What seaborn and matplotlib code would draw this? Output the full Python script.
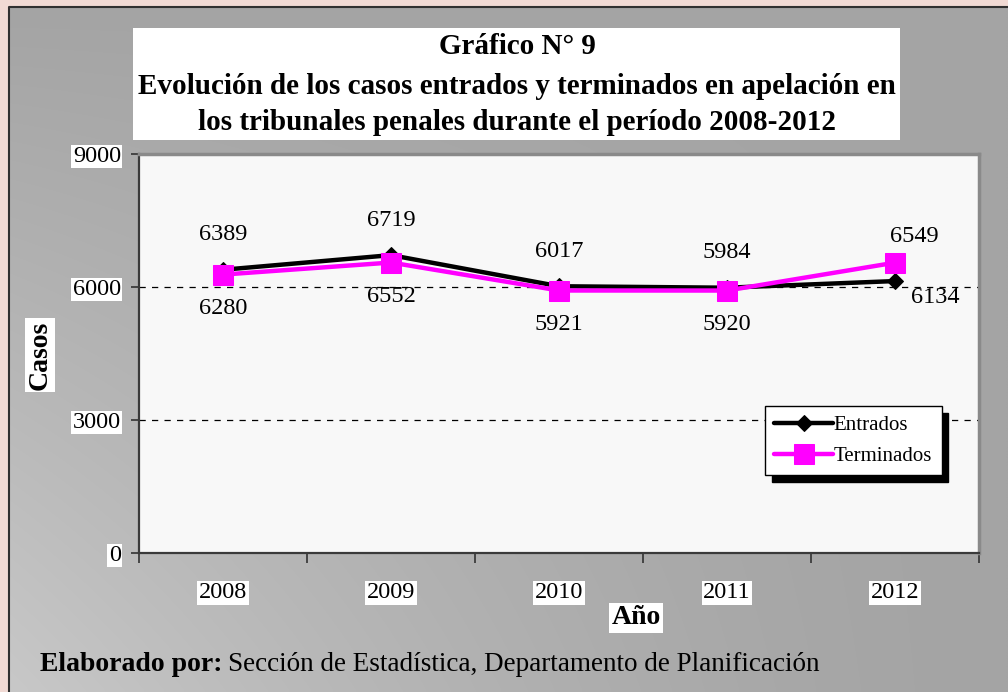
import numpy as np
import pandas as pd
import matplotlib
matplotlib.use("Agg")
import matplotlib.pyplot as plt
from matplotlib.patches import Rectangle
import seaborn as sns

# ---- data ----
years = ["2008", "2009", "2010", "2011", "2012"]
entrados = [6389, 6719, 6017, 5984, 6134]
terminados = [6280, 6552, 5921, 5920, 6549]
y_ticks = [0, 3000, 6000, 9000]
title_lines = ["Gráfico N° 9",
               "Evolución de los casos entrados y terminados en apelación en",
               "los tribunales penales durante el período 2008-2012"]

sns.set_style("white")
plt.rcParams["font.family"] = ["Liberation Serif", "DejaVu Serif"]
for k in ["text.color", "axes.labelcolor", "xtick.color", "ytick.color"]:
    plt.rcParams[k] = "black"

W, H = 1008, 692
fig = plt.figure(figsize=(W / 100, H / 100), dpi=100, facecolor="#f1dad4")

# background panel with gradient
bg = fig.add_axes([0, 0, 1, 1], zorder=-10)
bg.set_xlim(0, W)
bg.set_ylim(H, 0)
bg.axis("off")
yy, xx = np.mgrid[0:1:200j, 0:1:300j]
f = np.clip(yy * (1 - xx) ** 1.5, 0, 1)
val = (0xa4 + (0xc8 - 0xa4) * f) / 255.0
img = np.dstack([val, val, val])
bg.imshow(img, extent=(9, W, H, 7), aspect="auto", interpolation="bilinear")
bg.plot([9, 9, W], [H, 7, 7], color="#303030", lw=1.5)
bg.add_patch(Rectangle((133, 28), 767, 112, facecolor="white", edgecolor="none"))

# main axes
L, R, T, B = 139, 979, 154, 553
ax = fig.add_axes([L / W, 1 - B / H, (R - L) / W, (B - T) / H])
ax.set_facecolor("#f8f8f8")

x = np.arange(len(years))
df = pd.DataFrame({"x": x, "Entrados": entrados, "Terminados": terminados})

sns.lineplot(data=df, x="x", y="Entrados", ax=ax, color="black", lw=3.2,
             marker="D", markersize=8, markeredgecolor="black",
             label="Entrados", zorder=3)
sns.lineplot(data=df, x="x", y="Terminados", ax=ax, color="#ff00ff", lw=3.2,
             marker="s", markersize=14, markeredgecolor="#ff00ff",
             label="Terminados", zorder=4)

ax.set_xlim(-0.5, len(years) - 0.5)
ax.set_ylim(0, 9000)
ax.set_yticks(y_ticks)
ax.set_yticklabels([str(v) for v in y_ticks])
ax.set_xticks(np.arange(-0.5, len(years), 1.0))
ax.set_xticklabels([])
ax.set_xticks(x, minor=True)
ax.set_xticklabels(years, minor=True)
ax.tick_params(axis="x", which="major", direction="out", length=7, width=1.2,
               color="#333333", bottom=True)
ax.tick_params(axis="x", which="minor", length=0, pad=21, labelsize=17.5,
               labelcolor="black")
ax.tick_params(axis="y", direction="out", length=6, width=1.2, color="#333333",
               left=True, pad=7, labelsize=17.5, labelcolor="black")
for lab in ax.get_xticklabels(minor=True) + ax.get_yticklabels():
    lab.set_bbox(dict(facecolor="white", edgecolor="none", pad=1))

for v in [3000, 6000]:
    ax.axhline(v, color="black", lw=0.9, ls=(0, (5, 5)), zorder=1)

for s in ["left", "bottom"]:
    ax.spines[s].set_color("#3a3a3a")
    ax.spines[s].set_linewidth(1.6)
for s in ["top", "right"]:
    ax.spines[s].set_color("#8a8a8a")
    ax.spines[s].set_linewidth(2.5)

ax.set_xlabel("")
ax.set_ylabel("")

# data labels
n = len(years)
fs = 17.5
for i in range(n):
    if i < n - 1:
        ax.annotate(str(entrados[i]), (x[i], entrados[i]), xytext=(0, 35),
                    textcoords="offset pixels", ha="center", va="center", fontsize=fs)
        ax.annotate(str(terminados[i]), (x[i], terminados[i]), xytext=(0, -34),
                    textcoords="offset pixels", ha="center", va="center", fontsize=fs)
    else:
        ax.annotate(str(entrados[i]), (x[i], entrados[i]), xytext=(40, -16),
                    textcoords="offset pixels", ha="center", va="center", fontsize=fs)
        ax.annotate(str(terminados[i]), (x[i], terminados[i]), xytext=(19, 26),
                    textcoords="offset pixels", ha="center", va="center", fontsize=fs)

# legend
leg = ax.legend(loc="upper left", bbox_to_anchor=(765 / W, 1 - 406 / H),
                bbox_transform=fig.transFigure, fontsize=15, frameon=True,
                fancybox=False, edgecolor="black", framealpha=1,
                handlelength=2.8, handletextpad=0.05, borderpad=0.45,
                labelspacing=0.55, borderaxespad=0,
                shadow={"facecolor": "black", "edgecolor": "black", "alpha": 1,
                        "ox": 5, "oy": -5})
leg.get_frame().set_linewidth(1.0)
leg.get_frame().set_facecolor("white")
for t in leg.get_texts():
    t.set_color("black")

# titles
ys = [47, 87, 122]
for t, yv in zip(title_lines, ys):
    fig.text(517 / W, 1 - yv / H, t, ha="center", va="center",
             fontsize=21, fontweight="bold", color="black")

fig.text(40 / W, 1 - 355 / H, "Casos", rotation=90, ha="center", va="center",
         fontsize=20, fontweight="bold", color="black",
         bbox=dict(facecolor="white", edgecolor="none", pad=2))
fig.text(636 / W, 1 - 618 / H, "Año", ha="center", va="center",
         fontsize=20, fontweight="bold", color="black",
         bbox=dict(facecolor="white", edgecolor="none", pad=2))

t1 = fig.text(40 / W, 1 - 671 / H, "Elaborado por:", ha="left", va="baseline",
              fontsize=20, fontweight="bold", color="black")
fig.canvas.draw()
ext = t1.get_window_extent(renderer=fig.canvas.get_renderer())
fig.text((ext.x1 + 6) / W, 1 - 671 / H,
         "Sección de Estadística, Departamento de Planificación",
         ha="left", va="baseline", fontsize=19.5, color="black")

fig.savefig("out.png", dpi=100, facecolor=fig.get_facecolor())
